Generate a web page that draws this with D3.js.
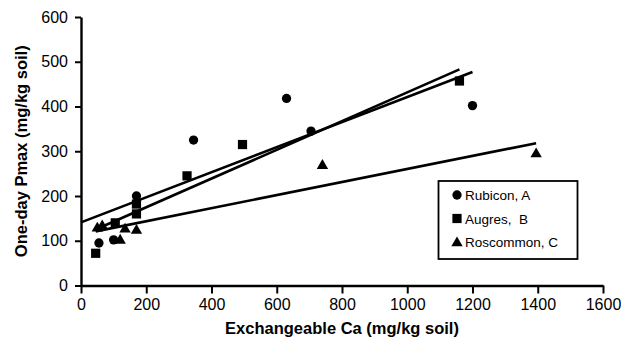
<!DOCTYPE html>
<html><head><meta charset="utf-8">
<script src="https://cdn.jsdelivr.net/npm/d3@7"></script>
<style>body{margin:0;background:#fff}svg{display:block}text{font-family:Arial,"Liberation Sans",sans-serif;fill:#000;white-space:pre}</style>
</head><body><svg id="c" width="621" height="345"></svg>
<script>
const rubiconCa   = [55, 100, 170, 345, 630, 705, 1200];
const rubiconP    = [95, 102, 200, 325, 418, 345, 402];
const augresCa    = [45, 105, 170, 170, 325, 495, 1160];
const augresP     = [72, 140, 182, 160, 245, 315, 457];
const roscommonCa = [50, 65, 120, 135, 170, 740, 1395];
const roscommonP  = [130, 135, 103, 128, 125, 270, 296];
const rubiconTrend   = [[0, 141], [1200, 477]];
const augresTrend    = [[45, 125], [1160, 483]];
const roscommonTrend = [[45, 121], [1395, 318]];
const seriesNames = ["Rubicon, A", "Augres,  B", "Roscommon, C"];
const xTicks = [0, 200, 400, 600, 800, 1000, 1200, 1400, 1600];
const yTicks = [0, 100, 200, 300, 400, 500, 600];

const svg = d3.select("#c");
const x = d3.scaleLinear().domain([0, 1600]).range([81, 603]);
const y = d3.scaleLinear().domain([0, 600]).range([285.5, 17]);

const series = [
  {name: seriesNames[0], xs: rubiconCa, ys: rubiconP, trend: rubiconTrend, sym: d3.symbolCircle, size: 68},
  {name: seriesNames[1], xs: augresCa, ys: augresP, trend: augresTrend, sym: d3.symbolSquare, size: 85},
  {name: seriesNames[2], xs: roscommonCa, ys: roscommonP, trend: roscommonTrend, sym: d3.symbolTriangle, size: 56}
];

// axes
const fmt = d3.format("d");
const xAxis = d3.axisBottom(x).tickValues(xTicks).tickFormat(fmt).tickSize(8).tickPadding(5).tickSizeOuter(0);
const gx = svg.append("g").attr("transform", `translate(0,${y(0)})`).call(xAxis);
const yAxis = d3.axisLeft(y).tickValues(yTicks).tickFormat(fmt).tickSize(6).tickPadding(7).tickSizeOuter(0);
const gy = svg.append("g").attr("transform", `translate(${x(0)},0)`).call(yAxis);
[gx, gy].forEach(g => {
  g.select(".domain").attr("stroke", "#000").attr("stroke-width", 2.4);
  g.selectAll(".tick line").attr("stroke", "#000").attr("stroke-width", 2);
  g.selectAll(".tick text").attr("font-size", 16).attr("font-family", "Arial, 'Liberation Sans', sans-serif").attr("fill", "#111");
});

// trend lines
const line = d3.line().x(d => x(d[0])).y(d => y(d[1]));
series.forEach(s => {
  svg.append("path").attr("d", line(s.trend)).attr("fill", "none").attr("stroke", "#000").attr("stroke-width", 2.6);
});

// points
series.forEach(s => {
  svg.append("g").selectAll("path").data(s.xs.map((v, i) => [v, s.ys[i]])).join("path")
    .attr("d", d3.symbol().type(s.sym).size(s.size))
    .attr("transform", d => `translate(${x(d[0])},${y(d[1]) + (s.sym === d3.symbolTriangle ? 1 : 0)})`)
    .attr("fill", "#000");
});

// axis titles
svg.append("text").attr("x", (x(0) + x(1600)) / 2).attr("y", 334).attr("text-anchor", "middle")
  .attr("font-size", 16.5).attr("font-weight", "bold").text("Exchangeable Ca (mg/kg soil)");
svg.append("text").attr("transform", `translate(27,${(y(0) + y(600)) / 2}) rotate(-90)`).attr("text-anchor", "middle")
  .attr("font-size", 16.5).attr("font-weight", "bold").text("One-day Pmax (mg/kg soil)");

// legend
const lg = svg.append("g");
lg.append("rect").attr("x", 438.5).attr("y", 181).attr("width", 139).attr("height", 78)
  .attr("fill", "#fff").attr("stroke", "#000").attr("stroke-width", 1.8);
series.forEach((s, i) => {
  const cy = 195 + i * 23.5;
  lg.append("path").attr("d", d3.symbol().type(s.sym).size(s.size))
    .attr("transform", `translate(457,${cy + (s.sym === d3.symbolTriangle ? 1 : 0)})`).attr("fill", "#000");
  lg.append("text").attr("x", 465).attr("y", cy + 5).attr("font-size", 13.5).text(s.name);
});
</script></body></html>
